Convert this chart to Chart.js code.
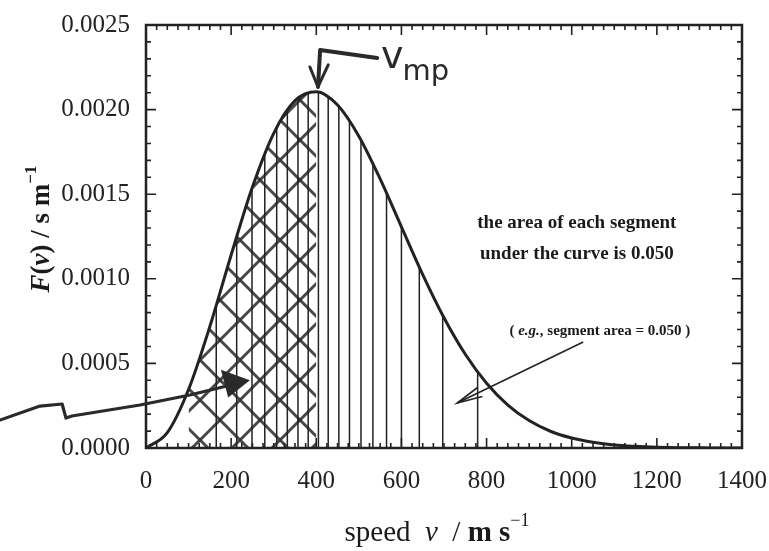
<!DOCTYPE html>
<html><head><meta charset="utf-8">
<script src="https://cdn.jsdelivr.net/npm/chart.js@4.4.0/dist/chart.umd.min.js"></script>
<style>html,body{margin:0;padding:0;background:#fff;overflow:hidden}</style>
</head><body>
<canvas id="c" width="769" height="551"></canvas>
<script>
// ---- data ----
const speeds  = [0,50,100,150,200,250,300,350,400,450,500,550,600,650,700,750,800,850,900,950,1000,1050,1100,1150,1200,1250,1300,1350,1400];
const density = [0,0.000091,0.000346,0.000718,0.001141,0.001542,0.001860,0.002053,0.002106,0.002027,0.001843,0.001590,0.001307,0.001025,0.000770,0.000554,0.000383,0.000254,0.000162,0.000099,0.000059,0.000034,0.000018,0.000010,0.000005,0.000002,0.000001,0.0000005,0.0000002];
const segmentSpeeds  = [165,213,249,279,307,332,357,381,405,428,453,478,505,533,565,600,642,697,779];
const segmentHeights = [0.000845,0.001249,0.001534,0.001741,0.001894,0.002001,0.002069,0.002103,0.002104,0.002076,0.002019,0.001934,0.001821,0.001679,0.001508,0.001306,0.001066,0.000786,0.000450];
const hatchFrom = 100, hatchTo = 400;
const xTickLabels = [0,200,400,600,800,1000,1200,1400];
const yTickLabels = [0,0.0005,0.0010,0.0015,0.0020,0.0025];

// ---- annotation geometry (data units) ----
const vmpArrow = [[543,0.002305],[409,0.002352],[404,0.002134]];
const vmpHead  = [[385,0.002252],[404,0.002134],[428,0.002264]];
const vmpText  = {v:[552,0.002246], mp:[0,0.002175]};
const noteLines = ['the area of each segment','under the curve is 0.050'];
const notePos = [[1012,0.00130],[1012,0.001117]];
const egPos = [1066,0.000668];
const egArrow = [[1027,0.000626],[731,0.000266]];
const bigArrow = [[-343,0.000165],[-249,0.000248],[-197,0.000260],[-188,0.000177],[-174,0.000189],[-14,0.000254],[103,0.000313],[209,0.000378]];
const bigHead = [[244,0.000400],[176,0.000462],[193,0.000298]];

const curvePts = speeds.map((v,i)=>({x:v,y:density[i]}));
const hatchPts = curvePts.filter(p=>p.x>=hatchFrom && p.x<=hatchTo);
const segPts = [];
segmentSpeeds.forEach((v,i)=>{segPts.push({x:v,y:0},{x:v,y:segmentHeights[i]},{x:v,y:null});});

function makeHatch(){
  const s=40, c=document.createElement('canvas'); c.width=s; c.height=s;
  const g=c.getContext('2d'); g.strokeStyle='rgba(40,40,40,0.85)'; g.lineWidth=3;
  for(const o of [-s,0,s]){
    g.beginPath(); g.moveTo(o,0); g.lineTo(o+s,s); g.stroke();
    g.beginPath(); g.moveTo(o+s,0); g.lineTo(o,s); g.stroke();
  }
  return c.getContext('2d').createPattern(c,'repeat');
}

const SERIF='"Liberation Serif", "DejaVu Serif", serif';
function rich(ctx, parts, x, y, align){
  let w=0;
  parts.forEach(p=>{ctx.font=p.f; p.w=ctx.measureText(p.t).width; w+=p.w;});
  let cx = align==='left'? x : x-w/2;
  ctx.textAlign='left'; ctx.textBaseline='alphabetic';
  parts.forEach(p=>{ctx.font=p.f; ctx.fillText(p.t,cx,y+(p.dy||0)); cx+=p.w;});
}

const deco = {
  id:'deco',
  afterDraw(chart){
    const {ctx, chartArea:a, scales:{x,y}} = chart;
    const P = (d)=>[x.getPixelForValue(d[0]), y.getPixelForValue(d[1])];
    ctx.save();
    ctx.strokeStyle='#222'; ctx.fillStyle='#222';
    // ticks (inward)
    ctx.lineWidth=1.6;
    for(let v=25; v<1400; v+=25){
      const px=x.getPixelForValue(v), L=(v%200===0)?10:5;
      ctx.beginPath(); ctx.moveTo(px,a.bottom); ctx.lineTo(px,a.bottom-L);
      ctx.moveTo(px,a.top); ctx.lineTo(px,a.top+L); ctx.stroke();
    }
    for(let k=1; k<25; k++){
      const py=y.getPixelForValue(k*0.0001), L=(k%5===0)?10:5;
      ctx.beginPath(); ctx.moveTo(a.left,py); ctx.lineTo(a.left+L,py);
      ctx.moveTo(a.right,py); ctx.lineTo(a.right-L,py); ctx.stroke();
    }
    // frame
    ctx.lineWidth=2.5;
    ctx.strokeRect(a.left,a.top,a.right-a.left,a.bottom-a.top);

    // axis titles
    ctx.fillStyle='#1a1a1a';
    rich(ctx,[
      {t:'speed',f:'29px '+SERIF},{t:'  ',f:'29px '+SERIF},
      {t:'v',f:'italic 29px '+SERIF},{t:'  / ',f:'29px '+SERIF},
      {t:'m s',f:'bold 29px '+SERIF},{t:'\u22121',f:'18px '+SERIF,dy:-15}
    ], 437, 541);
    ctx.save(); ctx.translate(49,229); ctx.rotate(-Math.PI/2);
    rich(ctx,[
      {t:'F',f:'bold italic 27px '+SERIF},{t:'(',f:'bold 27px '+SERIF},
      {t:'v',f:'bold italic 27px '+SERIF},{t:')',f:'bold 27px '+SERIF},
      {t:' / s m',f:'bold 27px '+SERIF},{t:'\u22121',f:'bold 17px '+SERIF,dy:-13}
    ],0,0);
    ctx.restore();

    // notes
    ctx.fillStyle='#1a1a1a';
    ctx.font='bold 19px '+SERIF; ctx.textAlign='center'; ctx.textBaseline='alphabetic';
    noteLines.forEach((t,i)=>{const p=P(notePos[i]); ctx.fillText(t,p[0],p[1]);});
    const e=P(egPos);
    rich(ctx,[{t:'( ',f:'bold 15px '+SERIF},{t:'e.g.',f:'bold italic 15px '+SERIF},
      {t:', segment area = 0.050 )',f:'bold 15px '+SERIF}], e[0], e[1]);
    // e.g. arrow
    const a0=P(egArrow[0]), a1=P(egArrow[1]);
    ctx.lineWidth=1.6; ctx.strokeStyle='#222';
    ctx.beginPath(); ctx.moveTo(a0[0],a0[1]); ctx.lineTo(a1[0],a1[1]); ctx.stroke();
    const ang=Math.atan2(a0[1]-a1[1],a0[0]-a1[0]);
    ctx.beginPath();
    ctx.moveTo(a1[0]+26*Math.cos(ang+0.2),a1[1]+26*Math.sin(ang+0.2));
    ctx.lineTo(a1[0],a1[1]);
    ctx.lineTo(a1[0]+26*Math.cos(ang-0.2),a1[1]+26*Math.sin(ang-0.2));
    ctx.stroke();

    // hand-drawn v_mp marker
    ctx.strokeStyle='#2a2a2a'; ctx.lineCap='round'; ctx.lineJoin='round';
    ctx.lineWidth=4;
    ctx.beginPath(); vmpArrow.forEach((d,i)=>{const p=P(d); i?ctx.lineTo(p[0],p[1]):ctx.moveTo(p[0],p[1]);}); ctx.stroke();
    ctx.lineWidth=3;
    ctx.beginPath(); vmpHead.forEach((d,i)=>{const p=P(d); i?ctx.lineTo(p[0],p[1]):ctx.moveTo(p[0],p[1]);}); ctx.stroke();
    ctx.fillStyle='#2a2a2a'; ctx.textAlign='left';
    let p=P(vmpText.v); ctx.font='38px "DejaVu Sans", sans-serif'; ctx.fillText('v',p[0],p[1]);
    const vw=ctx.measureText('v').width;
    const pm=P(vmpText.mp); ctx.font='29px "DejaVu Sans", sans-serif'; ctx.fillText('mp',p[0]+vw-1,pm[1]);

    // big hand-drawn arrow from the left
    ctx.lineWidth=3.2;
    ctx.beginPath(); bigArrow.forEach((d,i)=>{const q=P(d); i?ctx.lineTo(q[0],q[1]):ctx.moveTo(q[0],q[1]);}); ctx.stroke();
    ctx.beginPath(); bigHead.forEach((d,i)=>{const q=P(d); i?ctx.lineTo(q[0],q[1]):ctx.moveTo(q[0],q[1]);}); ctx.closePath(); ctx.fill();
    ctx.restore();
  }
};

new Chart(document.getElementById('c'),{
  type:'line',
  data:{datasets:[
    {label:'F(v)',data:curvePts,borderColor:'#222',borderWidth:3,pointRadius:0,cubicInterpolationMode:'monotone',fill:false},
    {label:'segments',data:segPts,borderColor:'#222',borderWidth:1.5,pointRadius:0,tension:0,spanGaps:false,fill:false},
    {label:'hatch',data:hatchPts,borderWidth:0,borderColor:'rgba(0,0,0,0)',pointRadius:0,cubicInterpolationMode:'monotone',fill:'origin',backgroundColor:makeHatch()}
  ]},
  options:{
    responsive:false, animation:false, events:[],
    layout:{padding:{top:25,right:27,left:0,bottom:0}},
    plugins:{legend:{display:false},tooltip:{enabled:false}},
    scales:{
      x:{type:'linear',min:0,max:1400,
        afterBuildTicks:(s)=>{s.ticks=xTickLabels.map(v=>({value:v}));},
        afterFit:(s)=>{s.height=103; s.paddingLeft=0; s.paddingRight=0;},
        grid:{display:false},border:{display:false},
        ticks:{color:'#222',font:{family:SERIF,size:25},padding:10,maxRotation:0,autoSkip:false,callback:(v)=>String(v)}},
      y:{type:'linear',min:0,max:0.0025,
        afterBuildTicks:(s)=>{s.ticks=yTickLabels.map(v=>({value:v}));},
        afterFit:(s)=>{s.width=146; s.paddingTop=0; s.paddingBottom=0;},
        grid:{display:false},border:{display:false},
        ticks:{color:'#222',font:{family:SERIF,size:25},padding:8,callback:(v)=>Number(v).toFixed(4)}}
    }
  },
  plugins:[deco]
});
</script>
</body></html>
